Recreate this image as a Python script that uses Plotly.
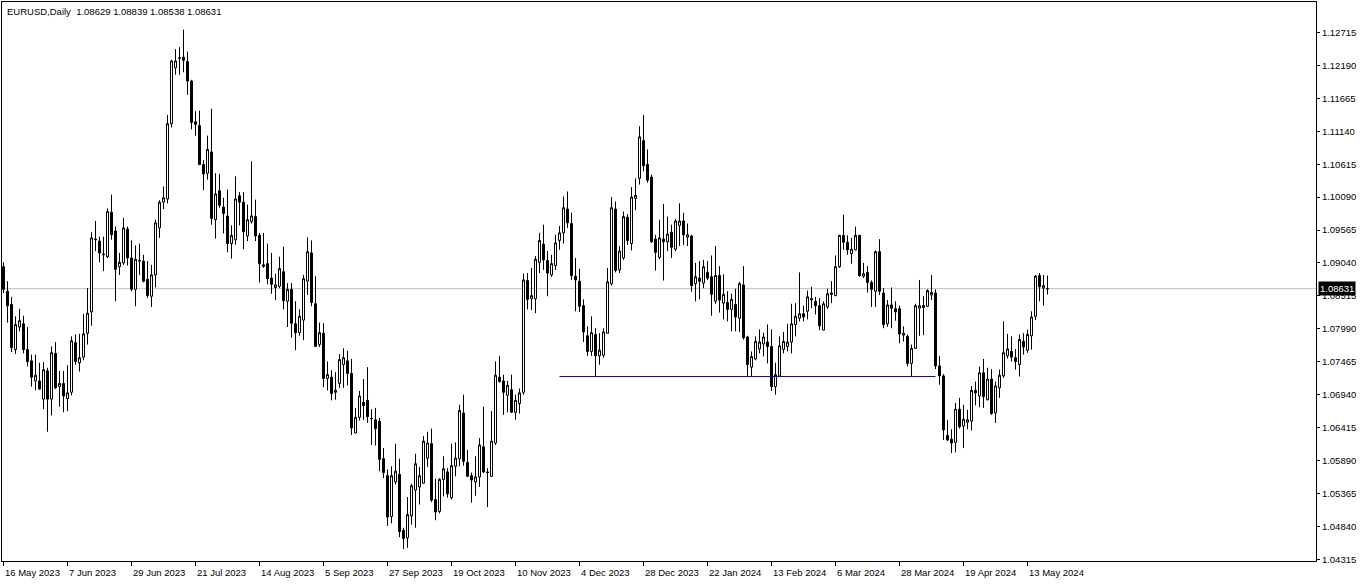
import plotly.graph_objects as go

# ---- data (EURUSD daily) ----
open_ = [1.0898,1.0859,1.0838,1.0766,1.0802,1.0807,1.0766,1.0748,1.0716,1.0716,
         1.0687,1.0732,1.0687,1.0760,1.0707,1.0712,1.0688,1.0698,1.0777,1.0745,
         1.0754,1.0792,1.0826,1.0941,1.0939,1.0917,1.0914,1.0985,1.0955,1.0898,
         1.0904,1.0958,1.0912,1.0862,1.0907,1.0907,1.0878,1.0851,1.0885,1.0960,
         1.1001,1.1006,1.1126,1.1215,1.1230,1.1232,1.1225,1.1194,1.1129,1.1123,
         1.1061,1.1047,1.1081,1.0973,1.1019,1.0993,1.0979,1.0935,1.0941,1.1011,
         1.1001,1.0947,1.0970,1.0978,1.0948,1.0901,1.0903,1.0880,1.0865,1.0867,
         1.0890,1.0843,1.0862,1.0807,1.0793,1.0813,1.0875,1.0920,1.0839,1.0774,
         1.0792,1.0720,1.0722,1.0698,1.0712,1.0742,1.0748,1.0728,1.0633,1.0658,
         1.0682,1.0685,1.0656,1.0654,1.0652,1.0592,1.0565,1.0500,1.0555,1.0567,
         1.0478,1.0466,1.0501,1.0542,1.0547,1.0553,1.0593,1.0616,1.0527,1.0508,
         1.0559,1.0571,1.0530,1.0580,1.0592,1.0665,1.0586,1.0565,1.0555,1.0563,
         1.0611,1.0571,1.0564,1.0617,1.0722,1.0716,1.0693,1.0702,1.0666,1.0680,
         1.0698,1.0876,1.0847,1.0847,1.0905,1.0934,1.0908,1.0885,1.0900,1.0940,
         1.0952,1.0990,1.0967,1.0883,1.0875,1.0836,1.0788,1.0763,1.0790,1.0756,
         1.0757,1.0792,1.0871,1.0990,1.0893,1.0912,1.0977,1.0935,1.1007,1.1039,
         1.1099,1.1061,1.1041,1.0942,1.0913,1.0942,1.0938,1.0953,1.0926,1.0964,
         1.0971,1.0945,1.0947,1.0871,1.0880,1.0872,1.0889,1.0882,1.0843,1.0884,
         1.0840,1.0841,1.0830,1.0838,1.0816,1.0869,1.0786,1.0738,1.0751,1.0767,
         1.0775,1.0778,1.0771,1.0707,1.0724,1.0766,1.0771,1.0778,1.0806,1.0816,
         1.0823,1.0827,1.0845,1.0843,1.0836,1.0797,1.0834,1.0854,1.0852,1.0898,
         1.0948,1.0937,1.0919,1.0925,1.0948,1.0883,1.0889,1.0873,1.0859,1.0922,
         1.0856,1.0807,1.0837,1.0831,1.0831,1.0789,1.0787,1.0744,1.0768,1.0832,
         1.0836,1.0835,1.0853,1.0856,1.0740,1.0724,1.0629,1.0623,1.0618,1.0671,
         1.0644,1.0650,1.0652,1.0701,1.0692,1.0729,1.0686,1.0719,1.0665,1.0705,
         1.0724,1.0756,1.0763,1.0753,1.0742,1.0779,1.0765,1.0788,1.0819,1.0884,
         1.0864,1.08629]
high = [1.0905,1.0875,1.0850,1.0819,1.0831,1.0820,1.0802,1.0758,1.0758,1.0745,
        1.0746,1.0737,1.0771,1.0778,1.0732,1.0732,1.0741,1.0787,1.0790,1.0791,
        1.0823,1.0864,1.0953,1.0971,1.0946,1.0946,1.0991,1.1013,1.0962,1.0920,
        1.0976,1.0962,1.0940,1.0932,1.0935,1.0917,1.0907,1.0901,1.0973,1.1004,
        1.1026,1.1140,1.1228,1.1245,1.1248,1.1276,1.1241,1.1196,1.1146,1.1147,
        1.1068,1.1107,1.1150,1.1047,1.1046,1.1008,1.1021,1.0964,1.1042,1.1017,
        1.1017,1.0997,1.1066,1.1005,1.0952,1.0952,1.0935,1.0920,1.0887,1.0914,
        1.0930,1.0872,1.0872,1.0843,1.0830,1.0885,1.0945,1.0940,1.0883,1.0809,
        1.0808,1.0747,1.0733,1.0730,1.0759,1.0768,1.0764,1.0751,1.0673,1.0700,
        1.0719,1.0738,1.0671,1.0673,1.0657,1.0609,1.0575,1.0580,1.0616,1.0592,
        1.0482,1.0531,1.0552,1.0600,1.0579,1.0628,1.0635,1.0640,1.0560,1.0561,
        1.0596,1.0577,1.0616,1.0618,1.0678,1.0694,1.0606,1.0570,1.0596,1.0625,
        1.0675,1.0577,1.0668,1.0747,1.0756,1.0726,1.0716,1.0726,1.0694,1.0704,
        1.0887,1.0888,1.0896,1.0915,1.0952,1.0965,1.0923,1.0917,1.0949,1.0963,
        1.1010,1.1018,1.0984,1.0912,1.0895,1.0846,1.0803,1.0819,1.0800,1.0792,
        1.0800,1.0896,1.1009,1.1002,1.0931,1.0986,1.0982,1.1025,1.1039,1.1122,
        1.1140,1.1085,1.1045,1.0949,1.0973,1.0998,1.0978,1.0965,1.0974,1.0999,
        1.0984,1.0967,1.0949,1.0904,1.0907,1.0909,1.0907,1.0916,1.0931,1.0899,
        1.0886,1.0859,1.0855,1.0863,1.0874,1.0899,1.0788,1.0763,1.0787,1.0798,
        1.0793,1.0806,1.0798,1.0745,1.0787,1.0794,1.0807,1.0839,1.0840,1.0889,
        1.0836,1.0860,1.0866,1.0850,1.0848,1.0843,1.0863,1.0875,1.0916,1.0949,
        1.0981,1.0948,1.0944,1.0962,1.0949,1.0904,1.0899,1.0876,1.0924,1.0942,
        1.0864,1.0845,1.0865,1.0843,1.0836,1.0803,1.0790,1.0774,1.0839,1.0877,
        1.0851,1.0862,1.0885,1.0862,1.0756,1.0727,1.0654,1.0639,1.0681,1.0689,
        1.0678,1.0670,1.0708,1.0715,1.0739,1.0751,1.0737,1.0735,1.0715,1.0734,
        1.0811,1.0791,1.0787,1.0767,1.0790,1.0792,1.0798,1.0827,1.0885,1.0888,
        1.0885,1.08839]
low = [1.0856,1.0809,1.0762,1.0759,1.0795,1.0760,1.0739,1.0707,1.0701,1.0702,
       1.0671,1.0635,1.0661,1.0703,1.0675,1.0666,1.0668,1.0693,1.0742,1.0731,
       1.0749,1.0774,1.0804,1.0923,1.0905,1.0891,1.0912,1.0941,1.0843,1.0885,
       1.0901,1.0900,1.0859,1.0835,1.0885,1.0873,1.0848,1.0834,1.0865,1.0944,
       1.0990,1.0999,1.1120,1.1204,1.1204,1.1208,1.1172,1.1117,1.1107,1.1060,
       1.1020,1.1037,1.0965,1.0943,1.0992,1.0951,1.0921,1.0911,1.0933,1.0964,
       1.0926,1.0939,1.0967,1.0939,1.0873,1.0896,1.0870,1.0855,1.0845,1.0864,
       1.0830,1.0802,1.0785,1.0765,1.0788,1.0781,1.0853,1.0835,1.0771,1.0770,
       1.0706,1.0701,1.0685,1.0686,1.0705,1.0705,1.0709,1.0630,1.0632,1.0653,
       1.0654,1.0649,1.0614,1.0613,1.0572,1.0561,1.0485,1.0489,1.0551,1.0467,
       1.0448,1.0450,1.0487,1.0482,1.0519,1.0552,1.0579,1.0523,1.0494,1.0505,
       1.0532,1.0530,1.0527,1.0564,1.0580,1.0581,1.0563,1.0522,1.0533,1.0547,
       1.0569,1.0515,1.0563,1.0614,1.0713,1.0662,1.0666,1.0665,1.0654,1.0664,
       1.0694,1.0830,1.0829,1.0824,1.0888,1.0893,1.0851,1.0882,1.0893,1.0925,
       1.0935,1.0960,1.0877,1.0827,1.0826,1.0778,1.0756,1.0756,1.0723,1.0742,
       1.0753,1.0792,1.0868,1.0889,1.0888,1.0909,1.0933,1.0924,1.0988,1.1029,
       1.1050,1.1032,1.0936,1.0892,1.0910,1.0876,1.0923,1.0912,1.0923,1.0931,
       1.0933,1.0931,1.0858,1.0843,1.0846,1.0864,1.0877,1.0820,1.0839,1.0825,
       1.0814,1.0811,1.0795,1.0795,1.0794,1.0782,1.0724,1.0724,1.0749,1.0760,
       1.0755,1.0744,1.0700,1.0694,1.0724,1.0760,1.0763,1.0760,1.0787,1.0811,
       1.0811,1.0814,1.0832,1.0822,1.0797,1.0797,1.0831,1.0840,1.0851,1.0896,
       1.0925,1.0917,1.0903,1.0924,1.0882,1.0880,1.0857,1.0834,1.0834,1.0853,
       1.0800,1.0802,1.0800,1.0812,1.0776,1.0779,1.0739,1.0723,1.0767,1.0788,
       1.0789,1.0834,1.0845,1.0735,1.0710,1.0622,1.0620,1.0601,1.0602,1.0640,
       1.0609,1.0639,1.0637,1.0677,1.0674,1.0673,1.0685,1.0662,1.0649,1.0689,
       1.0721,1.0752,1.0747,1.0734,1.0723,1.0758,1.0761,1.0766,1.0813,1.0843,
       1.0836,1.08538]
close = [1.0862,1.0836,1.0769,1.0806,1.0812,1.0766,1.0747,1.0722,1.0725,1.0703,
         1.0734,1.0687,1.0761,1.0705,1.0712,1.0692,1.0697,1.0780,1.0747,1.0753,
         1.0791,1.0824,1.0944,1.0942,1.0920,1.0918,1.0986,1.0949,1.0894,1.0905,
         1.0960,1.0912,1.0862,1.0910,1.0908,1.0875,1.0852,1.0885,1.0968,1.1001,
         1.1008,1.1126,1.1226,1.1226,1.1231,1.1227,1.1194,1.1128,1.1125,1.1061,
         1.1046,1.1085,1.0975,1.1014,1.0996,1.0983,1.0935,1.0948,1.1006,1.1001,
         1.0954,1.0973,1.0979,1.0947,1.0903,1.0899,1.0879,1.0870,1.0869,1.0895,
         1.0844,1.0862,1.0808,1.0793,1.0819,1.0879,1.0922,1.0841,1.0771,1.0793,
         1.0720,1.0726,1.0696,1.0701,1.0750,1.0753,1.0728,1.0641,1.0658,1.0692,
         1.0677,1.0659,1.0656,1.0640,1.0591,1.0570,1.0499,1.0565,1.0572,1.0476,
         1.0465,1.0503,1.0549,1.0584,1.0565,1.0620,1.0617,1.0526,1.0507,1.0559,
         1.0576,1.0536,1.0581,1.0593,1.0669,1.0588,1.0564,1.0558,1.0563,1.0614,
         1.0571,1.0570,1.0620,1.0725,1.0715,1.0698,1.0709,1.0666,1.0685,1.0697,
         1.0877,1.0846,1.0852,1.0910,1.0940,1.0909,1.0888,1.0903,1.0936,1.0952,
         1.0992,1.0968,1.0884,1.0877,1.0835,1.0794,1.0763,1.0793,1.0756,1.0765,
         1.0794,1.0874,1.0992,1.0892,1.0923,1.0978,1.0940,1.1009,1.1012,1.1105,
         1.1059,1.1036,1.0938,1.0921,1.0944,1.0938,1.0950,1.0929,1.0971,1.0971,
         1.0949,1.0949,1.0868,1.0882,1.0875,1.0898,1.0880,1.0854,1.0884,1.0845,
         1.0854,1.0830,1.0846,1.0818,1.0871,1.0785,1.0742,1.0755,1.0779,1.0778,
         1.0786,1.0771,1.0707,1.0726,1.0772,1.0779,1.0778,1.0807,1.0819,1.0823,
         1.0818,1.0850,1.0847,1.0836,1.0804,1.0839,1.0855,1.0856,1.0898,1.0948,
         1.0937,1.0925,1.0926,1.0948,1.0884,1.0887,1.0873,1.0862,1.0922,1.0859,
         1.0806,1.0837,1.0832,1.0826,1.0791,1.0792,1.0744,1.0768,1.0836,1.0836,
         1.0833,1.0860,1.0857,1.0740,1.0724,1.0638,1.0622,1.0617,1.0671,1.0643,
         1.0655,1.0654,1.0701,1.0697,1.0729,1.0691,1.0719,1.0664,1.0708,1.0725,
         1.0761,1.0767,1.0754,1.0747,1.0782,1.0770,1.0790,1.0818,1.0883,1.0866,
         1.0868,1.08631]

date_labels = ["16 May 2023", "7 Jun 2023", "29 Jun 2023", "21 Jul 2023", "14 Aug 2023",
               "5 Sep 2023", "27 Sep 2023", "19 Oct 2023", "10 Nov 2023", "4 Dec 2023",
               "28 Dec 2023", "22 Jan 2024", "13 Feb 2024", "6 Mar 2024", "28 Mar 2024",
               "19 Apr 2024", "13 May 2024"]
date_label_bars = [0, 16, 32, 48, 64, 80, 96, 112, 128, 144, 160, 176, 192, 208, 224, 240, 256]

price_ticks = [1.04315, 1.04840, 1.05365, 1.05890, 1.06415, 1.06940, 1.07465, 1.07990,
               1.08515, 1.09040, 1.09565, 1.10090, 1.10615, 1.11140, 1.11665, 1.12190, 1.12715]

support_level = 1.0723
support_from_bar = 139
support_to_bar = 233

symbol_title = "EURUSD,Daily"

# ---- figure ----
bars = list(range(len(close)))
FONT = "Liberation Sans, Arial, sans-serif"
FS = 9.5

fig = go.Figure()
fig.add_trace(go.Candlestick(
    x=bars, open=open_, high=high, low=low, close=close,
    increasing=dict(line=dict(color="black", width=1), fillcolor="white"),
    decreasing=dict(line=dict(color="black", width=1), fillcolor="black"),
    whiskerwidth=0, showlegend=False, hoverinfo="skip",
))

# bid line (last close)
fig.add_shape(type="line", xref="paper", x0=0, x1=1, yref="y",
              y0=close[-1], y1=close[-1], line=dict(color="#c0c0c0", width=1), layer="below")
# support trendline
fig.add_shape(type="line", xref="x", x0=support_from_bar, x1=support_to_bar, yref="y",
              y0=support_level, y1=support_level, line=dict(color="#0000cd", width=1))

annotations = []
for b, lab in zip(date_label_bars, date_labels):
    annotations.append(dict(x=b, xref="x", y=0, yref="paper", yanchor="top", xanchor="left",
                            text=lab, showarrow=False, yshift=-4, xshift=-1,
                            font=dict(family=FONT, size=FS, color="black")))
annotations.append(dict(
    x=0, xref="paper", y=1, yref="paper", xanchor="left", yanchor="top",
    xshift=3, yshift=-2, showarrow=False,
    text=f"{symbol_title}  {open_[-1]:.5f} {high[-1]:.5f} {low[-1]:.5f} {close[-1]:.5f}",
    font=dict(family=FONT, size=FS, color="black")))
annotations.append(dict(
    x=1, xref="paper", y=close[-1], yref="y", xanchor="left", yanchor="middle",
    xshift=2, showarrow=False, text=f"{close[-1]:.5f}", bgcolor="black", borderpad=1,
    font=dict(family=FONT, size=FS, color="white")))

fig.update_layout(
    width=1362, height=584,
    margin=dict(l=2, r=46, t=2, b=23),
    paper_bgcolor="white", plot_bgcolor="white",
    showlegend=False,
    boxgap=0.5, boxgroupgap=0,
    annotations=annotations,
    xaxis=dict(range=[-0.375, 328.125], showgrid=False, zeroline=False,
               showline=True, linecolor="black", linewidth=1, mirror=True,
               ticks="outside", ticklen=4, tickcolor="black",
               tickvals=date_label_bars, showticklabels=False,
               rangeslider=dict(visible=False), fixedrange=True),
    yaxis=dict(side="right", range=[1.04290, 1.13200], showgrid=False, zeroline=False,
               showline=True, linecolor="black", linewidth=1, mirror=True,
               ticks="outside", ticklen=3, tickcolor="black",
               tickvals=price_ticks, ticktext=[f"{v:.5f}" for v in price_ticks],
               tickfont=dict(family=FONT, size=FS, color="black"), fixedrange=True),
)

fig.write_html("out.html", config={"displayModeBar": False},
               post_script="document.body.style.margin='0px';")
